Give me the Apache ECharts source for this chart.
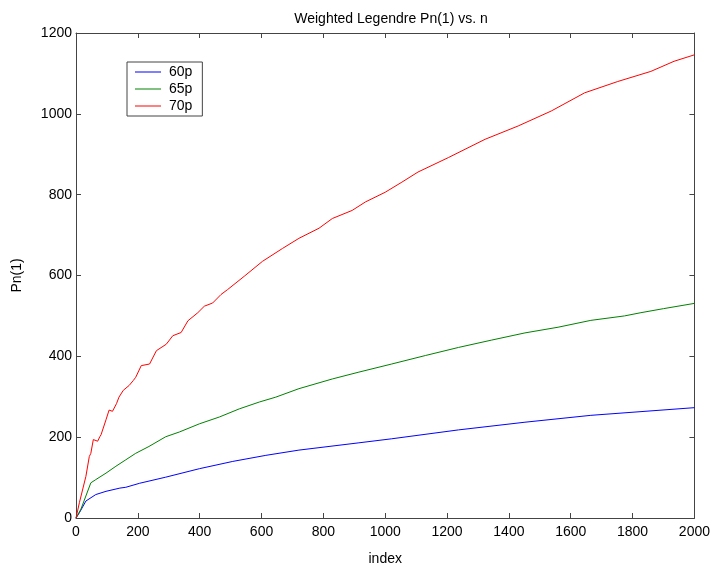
<!DOCTYPE html>
<html>
<head>
<meta charset="utf-8">
<title>Weighted Legendre Pn(1) vs. n</title>
<script src="https://cdn.jsdelivr.net/npm/echarts@6.0.0/dist/echarts.min.js"></script>
<style>
  html, body { margin: 0; padding: 0; background: #fff; }
  #chart { width: 713px; height: 571px; }
</style>
</head>
<body>
<div id="chart"></div>
<script>
  // values as [index, Pn(1)]
  const series60p = [
    [0, 0], [11, 13], [32, 42], [64, 58], [97, 66], [142, 74], [161, 76],
    [206, 86], [290, 101], [399, 122], [507, 140], [614, 155], [721, 168],
    [915, 186], [1021, 196], [1237, 218], [1452, 237], [1665, 254], [2000, 273],
  ];
  const series65p = [
    [0, 0], [16, 22], [48, 87], [64, 95], [97, 111], [129, 128], [161, 144],
    [193, 160], [236, 177], [290, 201], [335, 213], [399, 233], [464, 250],
    [528, 270], [593, 287], [646, 299], [721, 320], [829, 344], [915, 361],
    [1021, 381], [1130, 402], [1237, 422], [1343, 440], [1452, 458],
    [1559, 472], [1665, 489], [1774, 500], [1827, 508], [1900, 518], [2000, 531],
  ];
  const series70p = [
    [0, 0], [11, 38], [32, 103], [43, 152], [48, 160], [56, 194], [61, 196],
    [70, 190], [77, 201], [81, 206], [97, 243], [107, 267], [118, 264],
    [131, 283], [139, 299], [153, 316], [172, 328], [185, 340], [193, 348],
    [211, 377], [238, 381], [260, 414], [292, 430], [313, 451], [340, 459],
    [362, 488], [394, 508], [415, 524], [442, 532], [469, 553], [490, 565],
    [544, 598], [603, 635], [668, 667], [721, 692], [786, 717], [829, 741],
    [893, 761], [936, 782], [1000, 806], [1054, 831], [1106, 856], [1205, 892],
    [1323, 937], [1430, 970], [1537, 1007], [1645, 1052], [1752, 1080],
    [1859, 1105], [1934, 1130], [2000, 1146],
  ];
  const seriesNames = ['60p', '65p', '70p'];
  const seriesColors = ['#0000ff', '#008000', '#ff0000'];

  const font = 'Liberation Sans, Arial, sans-serif';
  const axisColor = '#444';

  const chart = echarts.init(document.getElementById('chart'));

  const boxAxis = (pos, extra) => Object.assign({
    type: 'value',
    position: pos,
    axisLine: { show: true, onZero: false, lineStyle: { color: axisColor, width: 1 } },
    axisTick: { show: true, inside: true, length: 5, lineStyle: { color: axisColor } },
    splitLine: { show: false },
    axisLabel: { show: false },
  }, extra);

  const plainLabel = (margin) => ({
    show: true,
    fontSize: 14,
    color: '#000',
    margin: margin,
    showMinLabel: true,
    showMaxLabel: true,
    fontFamily: font,
    formatter: (v) => String(v),
  });

  chart.setOption({
    animation: false,
    textStyle: { fontFamily: font },
    title: {
      text: 'Weighted Legendre Pn(1) vs. n',
      left: 386,
      top: 7,
      textAlign: 'center',
      textStyle: { fontSize: 14, fontWeight: 'normal', color: '#000', fontFamily: font },
    },
    legend: {
      data: seriesNames,
      orient: 'vertical',
      left: 127,
      top: 62,
      width: 76,
      backgroundColor: '#fff',
      borderColor: axisColor,
      borderWidth: 1,
      padding: [3, 10, 3, 8],
      itemGap: 3,
      itemWidth: 26,
      itemHeight: 1,
      icon: 'rect',
      textStyle: { fontSize: 14, color: '#000', fontFamily: font, lineHeight: 14, padding: [0, 0, 0, 3] },
    },
    grid: { left: 76, right: 16, top: 33, bottom: 49, containLabel: false },
    xAxis: [
      boxAxis('bottom', {
        min: 0, max: 2000, interval: 200,
        name: 'index', nameLocation: 'middle', nameGap: 34,
        nameTextStyle: { fontSize: 14, color: '#000', fontFamily: font },
        axisLabel: plainLabel(7),
      }),
      boxAxis('top', { min: 0, max: 2000, interval: 200 }),
    ],
    yAxis: [
      boxAxis('left', {
        min: 0, max: 1200, interval: 200,
        name: 'Pn(1)', nameLocation: 'middle', nameGap: 52,
        nameTextStyle: { fontSize: 14, color: '#000', fontFamily: font },
        axisLabel: plainLabel(4),
      }),
      boxAxis('right', { min: 0, max: 1200, interval: 200 }),
    ],
    series: [series60p, series65p, series70p].map((data, i) => ({
      name: seriesNames[i],
      type: 'line',
      data: data,
      showSymbol: false,
      symbol: 'none',
      color: seriesColors[i],
      lineStyle: { color: seriesColors[i], width: 1 },
      xAxisIndex: 0,
      yAxisIndex: 0,
    })),
  });
</script>
</body>
</html>
